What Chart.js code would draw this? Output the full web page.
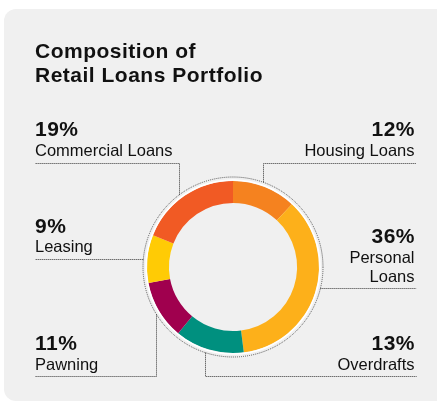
<!DOCTYPE html>
<html>
<head>
<meta charset="utf-8">
<script src="https://cdn.jsdelivr.net/npm/chart.js@4/dist/chart.umd.min.js"></script>
<style>
  html, body { margin: 0; padding: 0; background: #ffffff; width: 437px; height: 402px; overflow: hidden; }
  body { position: relative; font-family: "Liberation Sans", Arial, Helvetica, sans-serif; color: #111111; }
  #card { position: absolute; left: 4px; top: 9px; width: 460px; height: 392px; background: #f0f0f0; border-radius: 12px; }
  #chart { position: absolute; left: 0; top: 0; }
  #title { position: absolute; left: 35px; top: 38.7px; font-weight: bold; font-size: 21px; line-height: 24px; letter-spacing: 0.5px; margin: 0; }
  .lbl { position: absolute; }
  .lbl .pct { font-weight: bold; font-size: 21px; line-height: 21px; letter-spacing: 0.5px; }
  .lbl.right .pct { margin-right: -0.5px; }
  .lbl .name { font-size: 16.5px; line-height: 19px; margin-top: 1.2px; }
  .lbl.right { text-align: right; }
</style>
</head>
<body>
<div id="card"></div>
<canvas id="chart" width="437" height="402"></canvas>
<h1 id="title">Composition of<br>Retail Loans Portfolio</h1>
<div id="labels"></div>
<script>
// ---- data ----
const categories = ['Housing Loans', 'Personal Loans', 'Overdrafts', 'Pawning', 'Leasing', 'Commercial Loans'];
const shares = [12, 36, 13, 11, 9, 19];
const colors = ['#f5821f', '#fdb01a', '#00907f', '#a0004e', '#ffcb05', '#f15a24'];

// ---- label / leader layout (positions only) ----
const labelLayout = [
  { side: 'right', baseline: 136,   leader: 'up',   at: 263.5 },
  { side: 'right', baseline: 243,   leader: 'h',    at: 288.5, width: 100 },
  { side: 'right', baseline: 350,   leader: 'down', at: 205.5 },
  { side: 'left',  baseline: 350,   leader: 'down', at: 156.5 },
  { side: 'left',  baseline: 232.7, leader: 'h',    at: 259.5 },
  { side: 'left',  baseline: 136,   leader: 'up',   at: 179.5 }
];
const LEFT_X = 35, RIGHT_X = 414.5, LINE_L = 35, LINE_R = 416.5, TOP_LINE_Y = 163.5, BOTTOM_LINE_Y = 376.5;

const labelsEl = document.getElementById('labels');
categories.forEach((cat, i) => {
  const L = labelLayout[i];
  const d = document.createElement('div');
  d.className = 'lbl ' + L.side;
  d.style.top = (L.baseline - 17.6) + 'px';
  if (L.side === 'left') d.style.left = LEFT_X + 'px';
  else d.style.right = (437 - RIGHT_X) + 'px';
  if (L.width) d.style.width = L.width + 'px';
  const p = document.createElement('div'); p.className = 'pct'; p.textContent = shares[i] + '%';
  const n = document.createElement('div'); n.className = 'name'; n.textContent = cat;
  d.appendChild(p); d.appendChild(n);
  labelsEl.appendChild(d);
});

function dotted(ctx) {
  ctx.setLineDash([1, 1]);
  ctx.lineWidth = 1;
  ctx.strokeStyle = '#333333';
}

const decorPlugin = {
  id: 'decor',
  afterDatasetsDraw(chart) {
    const ctx = chart.ctx;
    const meta = chart.getDatasetMeta(0);
    const a0 = meta.data[0];
    const cx = a0.x, cy = a0.y, R = a0.outerRadius;
    ctx.save();
    // white ring just outside the donut
    ctx.beginPath();
    ctx.arc(cx, cy, R + 1, 0, Math.PI * 2);
    ctx.strokeStyle = '#ffffff';
    ctx.lineWidth = 1.6;
    ctx.stroke();
    // dotted ring
    const RR = R + 4;
    ctx.beginPath();
    ctx.arc(cx, cy, RR, 0, Math.PI * 2);
    dotted(ctx);
    ctx.strokeStyle = '#555555';
    ctx.stroke();
    // leader lines, starting on the dotted ring on the side of each slice
    meta.data.forEach((arc, i) => {
      const L = labelLayout[i];
      const mid = (arc.startAngle + arc.endAngle) / 2;
      const endX = L.side === 'left' ? LINE_L : LINE_R;
      ctx.beginPath();
      dotted(ctx);
      if (L.leader === 'h') {
        const dy = L.at - cy;
        const dx = Math.sqrt(Math.max(RR * RR - dy * dy, 0)) * Math.sign(Math.cos(mid));
        ctx.moveTo(cx + dx, L.at);
        ctx.lineTo(endX, L.at);
      } else {
        const dx = L.at - cx;
        const dy = Math.sqrt(Math.max(RR * RR - dx * dx, 0)) * Math.sign(Math.sin(mid));
        const ly = L.leader === 'up' ? TOP_LINE_Y : BOTTOM_LINE_Y;
        ctx.moveTo(L.at, cy + dy);
        ctx.lineTo(L.at, ly);
        ctx.lineTo(endX, ly);
      }
      ctx.stroke();
    });
    ctx.restore();
  }
};

new Chart(document.getElementById('chart'), {
  type: 'doughnut',
  data: {
    labels: categories,
    datasets: [{
      data: shares,
      backgroundColor: colors,
      borderWidth: 0,
      hoverOffset: 0
    }]
  },
  options: {
    responsive: false,
    animation: false,
    devicePixelRatio: 1,
    cutout: '74.5%',
    layout: { padding: { left: 147, right: 118, top: 181, bottom: 49 } },
    plugins: { legend: { display: false }, tooltip: { enabled: false }, title: { display: false } },
    events: []
  },
  plugins: [decorPlugin]
});
</script>
</body>
</html>
